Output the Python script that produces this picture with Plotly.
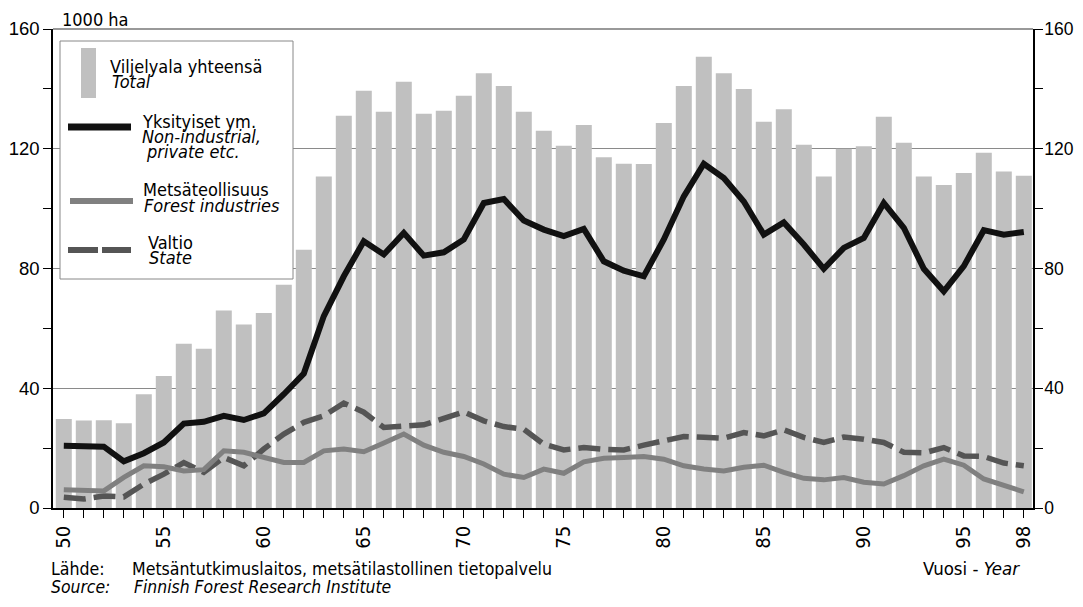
import plotly.graph_objects as go

# ---------------- data ----------------
years = list(range(50, 99))
total = [29.7, 29.2, 29.3, 28.3, 38.0, 44.1, 54.9, 53.2, 66.0, 61.3,
         65.1, 74.6, 86.3, 110.7, 131.0, 139.4, 132.4, 142.4, 131.7, 132.7,
         137.7, 145.2, 141.0, 132.4, 126.0, 121.0, 127.9, 117.2, 115.0, 114.9,
         128.6, 141.0, 150.7, 145.2, 140.0, 129.0, 133.2, 121.3, 110.7, 120.0,
         120.8, 130.7, 122.0, 110.7, 107.9, 111.9, 118.7, 112.4, 111.0]
private = [20.8, 20.9, 20.5, 15.6, 18.3, 21.9, 28.2, 28.8, 30.8, 29.4,
           31.6, 38.0, 44.9, 64.1, 77.4, 89.1, 84.7, 91.9, 84.3, 85.4,
           89.7, 101.9, 103.2, 96.0, 93.0, 90.8, 93.2, 82.4, 79.3, 77.4,
           89.7, 104.1, 115.0, 110.2, 102.4, 91.3, 95.4, 88.0, 79.9, 86.9,
           90.2, 101.9, 93.6, 79.9, 72.4, 80.8, 92.8, 91.3, 92.2]
forest = [6.1, 5.8, 5.7, 10.2, 14.1, 13.8, 12.4, 12.8, 19.1, 18.6,
          16.9, 15.2, 15.2, 19.1, 19.7, 18.8, 21.7, 24.7, 21.0, 18.6,
          17.2, 14.7, 11.3, 10.2, 13.0, 11.6, 15.4, 16.6, 16.9, 17.2,
          16.3, 14.1, 13.0, 12.4, 13.6, 14.3, 11.9, 9.9, 9.4, 10.2,
          8.6, 8.0, 10.8, 14.1, 16.3, 14.3, 9.7, 7.4, 5.4]
state = [3.6, 3.0, 4.0, 3.7, 8.0, 11.3, 15.2, 11.9, 16.9, 14.1,
         19.7, 24.7, 28.6, 30.8, 35.0, 32.0, 26.9, 27.2, 27.8, 29.9,
         32.1, 29.1, 27.2, 26.3, 21.3, 19.4, 20.2, 19.6, 19.4, 21.0,
         22.4, 23.9, 23.6, 23.3, 25.2, 24.1, 26.1, 23.6, 21.9, 23.7,
         23.0, 21.9, 18.6, 18.4, 20.2, 17.4, 17.2, 15.0, 14.1]
label_years = [50, 55, 60, 65, 70, 75, 80, 85, 90, 95, 98]
x_ticktext = [str(y) if y in label_years else "" for y in years]
y_tickvals = [0, 40, 80, 120, 160]
y_ticktext = ["0", "40", "80", "120", "160"]

# ---------------- layout helpers ----------------
OFF = 8  # page body margin of the browser
W, H = 1083 - 2 * OFF, 607 - 2 * OFF
# plot area in screen pixels
SL, SR, ST, SB = 53, 1033, 29, 508
L, R, T, B = SL - OFF, SR - OFF, ST - OFF, SB - OFF
NARROW = "DejaVu Sans Condensed, sans-serif"
REG = "Liberation Sans, Arial, sans-serif"


def px(x):
    return (x - SL) / (SR - SL)


def py(y):
    return (SB - y) / (SB - ST)


fig = go.Figure()
fig.add_trace(go.Bar(x=years, y=total, width=0.8, marker=dict(color="#c0c0c0", line=dict(width=0)),
                     showlegend=False, hoverinfo="skip"))
fig.add_trace(go.Scatter(x=years, y=state, mode="lines", line=dict(color="#555555", width=5.5, dash="22px,8px"),
                         showlegend=False, hoverinfo="skip"))
fig.add_trace(go.Scatter(x=years, y=forest, mode="lines", line=dict(color="#808080", width=5),
                         showlegend=False, hoverinfo="skip"))
fig.add_trace(go.Scatter(x=years, y=private, mode="lines", line=dict(color="#111111", width=6),
                         showlegend=False, hoverinfo="skip"))
# invisible trace so the right axis is drawn
fig.add_trace(go.Scatter(x=years, y=total, yaxis="y2", mode="lines", opacity=0,
                         showlegend=False, hoverinfo="skip"))

minor_y = dict(ticks="outside", ticklen=8, dtick=20, tick0=0, tickcolor="black", showgrid=False)

fig.update_layout(
    template="none",
    width=W, height=H,
    margin=dict(l=L, r=W - R, t=T, b=H - B, autoexpand=False),
    paper_bgcolor="white", plot_bgcolor="white",
    xaxis=dict(range=[49.46, 98.46], tickmode="array", tickvals=years, ticktext=x_ticktext,
               tickangle=-90, ticks="outside", ticklen=8, tickcolor="black", tickwidth=1,
               showline=True, linecolor="black", linewidth=1.5, mirror=False,
               showgrid=False, zeroline=False, automargin=False,
               tickfont=dict(family=NARROW, size=20, color="black")),
    yaxis=dict(range=[0, 160], tickmode="array", tickvals=y_tickvals, ticktext=y_ticktext,
               ticks="outside", ticklen=8, tickcolor="black", tickwidth=1,
               showline=True, linecolor="black", linewidth=1.5, minor=minor_y,
               showgrid=True, gridcolor="#8a8a8a", gridwidth=1, zeroline=False, automargin=False,
               tickfont=dict(family=REG, size=18.5, color="black")),
    yaxis2=dict(range=[0, 160], overlaying="y", side="right", anchor="x",
                tickmode="array", tickvals=y_tickvals, ticktext=y_ticktext,
                ticks="outside", ticklen=8, tickcolor="black", tickwidth=1, minor=minor_y,
                showline=True, linecolor="black", linewidth=1.5, ticklabelstandoff=-2,
                showgrid=False, zeroline=False, automargin=False,
                tickfont=dict(family=REG, size=17.5, color="black")),
)

shapes = []
# top border line
shapes.append(dict(type="line", xref="paper", yref="paper", x0=0, x1=1, y0=1, y1=1,
                   line=dict(color="#777777", width=1.5), layer="above"))
# legend box
shapes.append(dict(type="rect", xref="paper", yref="paper", x0=px(60), x1=px(293), y0=py(279), y1=py(41),
                   fillcolor="white", line=dict(color="#888888", width=1), layer="above"))
shapes.append(dict(type="rect", xref="paper", yref="paper", x0=px(81), x1=px(96), y0=py(98), y1=py(48),
                   fillcolor="#c0c0c0", line=dict(width=0), layer="above"))
shapes.append(dict(type="line", xref="paper", yref="paper", x0=px(68), x1=px(131), y0=py(127), y1=py(127),
                   line=dict(color="#111111", width=7), layer="above"))
shapes.append(dict(type="line", xref="paper", yref="paper", x0=px(70), x1=px(133), y0=py(201), y1=py(201),
                   line=dict(color="#808080", width=6), layer="above"))
shapes.append(dict(type="line", xref="paper", yref="paper", x0=px(68), x1=px(98), y0=py(250), y1=py(250),
                   line=dict(color="#555555", width=6), layer="above"))
shapes.append(dict(type="line", xref="paper", yref="paper", x0=px(102), x1=px(131), y0=py(250), y1=py(250),
                   line=dict(color="#555555", width=6), layer="above"))
fig.update_layout(shapes=shapes)

ann = []


def text(x, baseline, s, size=17.6, anchor="left", family=NARROW):
    # place by approximate baseline (screen pixel coordinates)
    ann.append(dict(xref="paper", yref="paper", x=px(x), y=py(baseline - 0.33 * size), text=s,
                    xanchor=anchor, yanchor="middle", showarrow=False, borderpad=0,
                    font=dict(family=family, size=size, color="black")))


text(61, 25, "1000 ha", size=18)
text(109, 72, "Viljelyala yhteensä", size=18)
text(111, 87, "<i>Total</i>", size=18)
text(141, 127, "Yksityiset ym.", size=18)
text(141, 142, "<i>Non-industrial,</i>", size=18)
text(145, 157, "<i>private etc.</i>", size=18)
text(142, 195, "Metsäteollisuus", size=18)
text(143, 211, "<i>Forest industries</i>", size=18)
text(147, 248, "Valtio", size=18)
text(148, 263, "<i>State</i>", size=18)

text(50, 575, "Lähde:")
text(131, 575, "Metsäntutkimuslaitos, metsätilastollinen tietopalvelu")
text(50, 593, "<i>Source:</i>", size=17.4)
text(133, 593, "<i>Finnish Forest Research Institute</i>", size=17.4)
text(1021, 575, "Vuosi - <i>Year</i>", size=18.5, anchor="right")

fig.update_layout(annotations=ann)
fig.write_html("out.html")
